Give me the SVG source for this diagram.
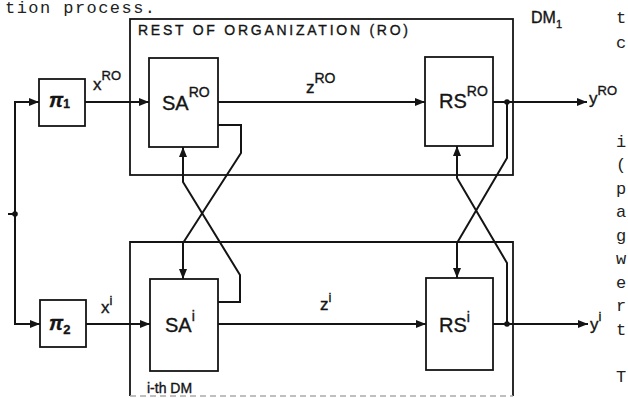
<svg xmlns="http://www.w3.org/2000/svg" width="628" height="398" viewBox="0 0 628 398">
<style>
.box{fill:none;stroke:#141414;stroke-width:1.8}
.ln{fill:none;stroke:#141414;stroke-width:2;stroke-linejoin:miter}
.t{font-family:"Liberation Sans",Arial,sans-serif;fill:#141414;stroke:#141414;stroke-width:0.35}
.pg{font-family:"Liberation Mono","Courier New",monospace;fill:#222;font-size:17px}
.dot{fill:#141414}
</style>
<defs>
<marker id="ah" markerUnits="userSpaceOnUse" markerWidth="10" markerHeight="8" refX="10" refY="4" orient="auto">
<path d="M0,0 L10,4 L0,8 z" fill="#141414"/>
</marker>
</defs>
<rect width="628" height="398" fill="#fff"/>
<!-- page text fragments -->
<text class="pg" x="5" y="13" textLength="150" lengthAdjust="spacing">tion process.</text>
<g class="pg">
<text x="616" y="23">t</text>
<text x="616" y="48">c</text>
<text x="616" y="147">i</text>
<text x="616" y="170">(</text>
<text x="616" y="194">p</text>
<text x="616" y="217">a</text>
<text x="616" y="241">g</text>
<text x="616" y="264">w</text>
<text x="616" y="288">e</text>
<text x="616" y="311">r</text>
<text x="616" y="335">t</text>
<text x="616" y="382">T</text>
</g>
<g id="ro">
<rect class="box" x="130" y="19" width="383" height="156"/>
<text class="t" x="138" y="35" font-size="14" textLength="270" lengthAdjust="spacing">REST OF ORGANIZATION (RO)</text>
</g>
<g id="ith">
<path class="box" d="M130,396 L130,242 L513,242 L513,396"/>
<line x1="130" y1="396" x2="513" y2="396" stroke="#aaa" stroke-width="1.5" stroke-dasharray="6,4"/>
<text class="t" x="147" y="393" font-size="14">i-th DM</text>
</g>
<g id="dm1">
<text class="t" x="531" y="23" font-size="16" stroke-width="0.2">DM<tspan font-size="11" dy="5">1</tspan></text>
</g>
<g id="pi1">
<rect class="box" x="39" y="79" width="46" height="47"/>
<text class="t" x="49" y="107" font-size="20" font-weight="bold" font-style="italic">π<tspan font-size="12" font-style="normal" dy="1">1</tspan></text>
</g>
<g id="pi2">
<rect class="box" x="40" y="300" width="46" height="47"/>
<text class="t" x="49" y="330" font-size="20" font-weight="bold" font-style="italic">π<tspan font-size="13" font-style="normal" dy="4">2</tspan></text>
</g>
<g id="sa-ro">
<rect class="box" x="149" y="58" width="69" height="89"/>
<text class="t" x="162" y="110" font-size="20">SA<tspan font-size="14" dy="-13">RO</tspan></text>
</g>
<g id="rs-ro">
<rect class="box" x="425" y="57" width="68" height="89"/>
<text class="t" x="439" y="108" font-size="20">RS<tspan font-size="14" dy="-12">RO</tspan></text>
</g>
<g id="sa-i">
<rect class="box" x="150" y="279" width="68" height="92"/>
<text class="t" x="165" y="332" font-size="20">SA<tspan font-size="14" dy="-11">i</tspan></text>
</g>
<g id="rs-i">
<rect class="box" x="426" y="278" width="67" height="92"/>
<text class="t" x="439" y="332" font-size="20">RS<tspan font-size="14" dy="-10">i</tspan></text>
</g>
<g id="labels">
<text class="t" x="93" y="90" font-size="17">x<tspan font-size="13" dy="-10">RO</tspan></text>
<text class="t" x="306" y="93" font-size="17">z<tspan font-size="14" dy="-10">RO</tspan></text>
<text class="t" x="589" y="104" font-size="17">y<tspan font-size="13" dy="-9">RO</tspan></text>
<text class="t" x="101" y="313" font-size="17">x<tspan font-size="13" dy="-8">i</tspan></text>
<text class="t" x="320" y="310" font-size="17">z<tspan font-size="13" dy="-8">i</tspan></text>
<text class="t" x="590" y="330" font-size="17">y<tspan font-size="13" dy="-9">i</tspan></text>
</g>
<g id="connectors">
<line class="ln" x1="8" y1="214" x2="15" y2="214"/>
<path class="ln" d="M15,214 L15,102 L39,102" marker-end="url(#ah)"/>
<path class="ln" d="M15,214 L15,324 L40,324" marker-end="url(#ah)"/>
<circle class="dot" cx="15" cy="214" r="2.8"/>
<path class="ln" d="M85,102 L149,102" marker-end="url(#ah)"/>
<path class="ln" d="M218,102 L425,102" marker-end="url(#ah)"/>
<path class="ln" d="M493,102 L587,102" marker-end="url(#ah)"/>
<circle class="dot" cx="507" cy="102" r="2.8"/>
<path class="ln" d="M86,324 L150,324" marker-end="url(#ah)"/>
<path class="ln" d="M218,324 L426,324" marker-end="url(#ah)"/>
<path class="ln" d="M493,324 L588,324" marker-end="url(#ah)"/>
<circle class="dot" cx="507" cy="324" r="2.8"/>
<path class="ln" d="M218,125 L241,125 L241,153 L183,243 L183,279" marker-end="url(#ah)"/>
<path class="ln" d="M218,302 L240,302 L240,275 L183,182 L183,147" marker-end="url(#ah)"/>
<path class="ln" d="M507,102 L507,158 L457,243 L457,278" marker-end="url(#ah)"/>
<path class="ln" d="M507,324 L507,263 L457,178 L457,146" marker-end="url(#ah)"/>
</g>
</svg>
